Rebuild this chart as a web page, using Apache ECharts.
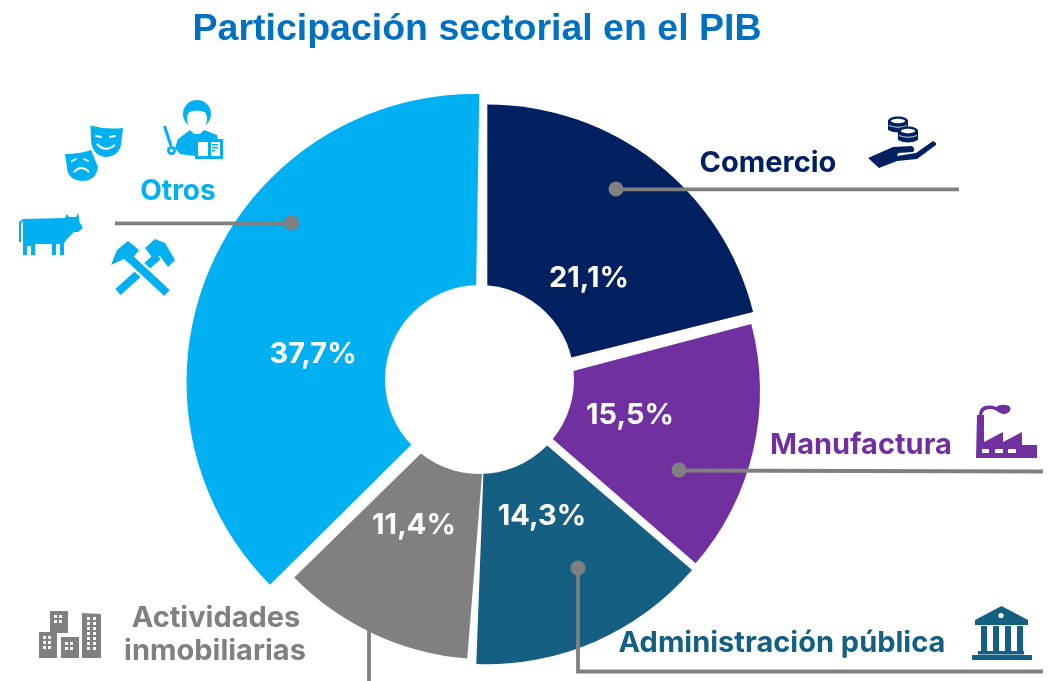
<!DOCTYPE html>
<html><head><meta charset="utf-8">
<style>html,body{margin:0;padding:0;background:#fff}#c{width:1056px;height:681px}</style>
<script src="https://cdn.jsdelivr.net/npm/echarts@6/dist/echarts.min.js"></script>
</head><body><div id="c"></div>
<script>
const categories = ['Comercio','Manufactura','Administración pública','Actividades inmobiliarias','Otros'];
const values = [21.1,15.5,14.3,11.4,37.7];
const colors = ['#002060','#7030A0','#156082','#808080','#00B0F0'];
const textColors = ['#002060','#7030A0','#156082','#808080','#00B0F0'];
const titleText = 'Participación sectorial en el PIB';
// slice geometry (exploded pie): centre x, centre y, radius, start angle
const sliceGeom = [[487.3,378.4,274,90],[497.5,391,262.5,90.76],[486.4,393.3,271,91.1],[489,386.9,272.5,88.66],[474.5,382,288,89.04]];
const labelPos = [[589,278.5],[630,415.5],[542,516.5],[414,525.5],[313,354.5]];
const GREY = '#808080', FONT = 'Inter, "Open Sans", sans-serif';

const fmt = v => v.toFixed(1).replace('.', ',') + '%';
const series = categories.map((_, i) => ({
  type:'pie', silent:true, animation:false, z:2,
  center:[sliceGeom[i][0], sliceGeom[i][1]], radius:[0, sliceGeom[i][2]], startAngle:sliceGeom[i][3],
  avoidLabelOverlap:false, labelLine:{show:false},
  label:{show:false},
  labelLayout:{x:labelPos[i][0], y:labelPos[i][1], align:'center', verticalAlign:'middle'},
  data: values.map((v, j) => ({
    name:categories[j], value:v,
    itemStyle:{color: j===i ? colors[i] : 'transparent'},
    label: j===i ? {show:true, position:'inside', formatter:p=>fmt(p.value), color:'#fff', fontFamily:FONT, fontWeight:'bold', fontSize:29} : {show:false}
  }))
}));

const g = [];
let pn = 0;
const reg = d => { const name = 'iconPath' + (pn++); echarts.graphic.registerShape(name, echarts.graphic.extendPath(d, {})); return name; };
const P = (d, fill) => g.push({type:reg(d), z:10, style:{fill:fill}});
const Q = (d, color, w) => g.push({type:reg(d), z:10, style:{fill:'none', stroke:color, lineWidth:w}});
const R = (x,y,w,h,fill) => g.push({type:'rect', z:10, shape:{x,y,width:w,height:h}, style:{fill}});
const C = (cx,cy,r,fill) => g.push({type:'circle', z:10, shape:{cx,cy,r}, style:{fill}});
const E = (cx,cy,rx,ry,fill) => g.push({type:'ellipse', z:10, shape:{cx,cy,rx,ry}, style:{fill}});
const L = (pts,color,w,cap) => g.push({type:'polyline', z:10, shape:{points:pts}, style:{stroke:color, lineWidth:w, fill:null, lineCap:cap||'butt'}});
const T = (s,x,y,color,size,align) => g.push({type:'text', z:11, style:{text:s, x, y, fill:color, font:'bold '+size+'px '+FONT, align:align||'center', verticalAlign:'middle'}});

// hole
C(479.5,379.5,94.5,'#fff');
// leaders
const LW = 3.8;
L([[115,223.3],[291,223.3]],GREY,LW); C(291.5,223,7.5,GREY);
L([[616,189.3],[959,189.3]],GREY,LW); C(616,189,7.5,GREY);
L([[679,470.5],[1043,471.5]],GREY,LW); C(679,470,7.5,GREY);
L([[578,568],[578,671.5],[1043,671.5]],GREY,LW); C(578,568,7.5,GREY);
L([[369,620],[369,681]],GREY,LW);

// category labels
T(categories[4],178,191.5,textColors[4],28);
T(categories[0],768,163.5,textColors[0],29);
T(categories[1],861,445.5,textColors[1],29);
T(categories[2],782,643.5,textColors[2],29);
const w = categories[3].split(' ');
T(w[0],216,618.5,textColors[3],29);
T(w[1],215,651.5,textColors[3],29);

// icons: person
const B = colors[4];
C(197,114,14,B); E(197,119,10,11.5,'#fff');
P('M187,113 Q197,108 207,113 L207,106 L187,106 Z',B);
P('M175,148 L178,139 L190,130 L194,134 L200,134 L204,130 L217,135 L218,140 L195,140 L195,156 L180,154 Z',B);
L([[164.5,126],[171,146]],B,3); C(171.5,150.5,4.5,B); C(171.5,150.5,1.8,'#fff');
R(195,139,28,20,B); R(198,142,10,14,'#fff'); R(211,142,9,14,'#fff'); R(212,144,6,1.5,B); R(212,147,6,1.5,B); R(212,150,3,1.5,B);
// masks
P('M65,154 Q80,154 91,150 L98,167 Q96,181 82,181 Q68,180 67,168 Z',B);
P('M88,124 Q106,129 125,126.5 L123,146 Q119,159 105,159 Q91,157 89,142 Z','#fff');
P('M90.5,125.5 Q106,130 123,128 L121,145 Q118,157 105,157 Q92,155 91,140 Z',B);
L([[96,136],[101,137]],'#fff',1.8,'round'); L([[110,137],[115,136]],'#fff',1.8,'round');
Q('M97,144 Q105,153 115,145','#fff',2);
L([[72,161],[76,159]],'#fff',1.8,'round'); L([[84,159],[88,161]],'#fff',1.8,'round');
Q('M74,172 Q81,164 89,172','#fff',2);
// cow
P('M23,219 L65,218 L67,214 L69,217 L76,217 L78,213 L79,217 L79,221 L83,228 L78,232 L74,232 L68,238 L64,243 L64,255 L60,255 L60,244 L56,244 L56,255 L52,255 L52,244 L35,244 L35,255 L31,255 L31,246 L27,246 L27,255 L23,255 Z',B);
P('M19,222 L23,219 L23,221 L21,224 L21,242 L19,242 Z',B);
// hammers
L([[118,292],[158,256]],B,8);
P('M145,248 L155,239 L165,243 L175,260 L168,267 L160,256 L152,257 Z',B);
L([[124,253],[167,293]],'#fff',13);
L([[124,253],[167,293]],B,8);
P('M111,265 L117,250 L128,241 L139,250 L129,263 L124,259 Z',B);
// coins + hand
const N = colors[0];
[[898,122],[908,132]].forEach(c=>{
  P(`M${c[0]-10},${c[1]-1} L${c[0]+10},${c[1]-1} L${c[0]+10},${c[1]+8} Q${c[0]},${c[1]+13} ${c[0]-10},${c[1]+8} Z`,N);
  E(c[0],c[1]-1,10,4.5,N); E(c[0],c[1]-1,7,2.2,'#fff');
  Q(`M${c[0]-9},${c[1]+3.5} Q${c[0]},${c[1]+7} ${c[0]+9},${c[1]+3.5}`,'#fff',0.8);
});
P('M868,158 L893,147 L912,146 Q916,149 913,152 L898,153 L897,156 L916,153 L933,141 L936,143 L936,145 L917,159 L897,161 L879,168 Z',N);
// factory
const F = colors[1];
P('M976,458 L977,415 L984,415 L984,442 L1003,432 L1003,442 L1022,432 L1022,445 L1037,445 L1037,458 Z',F);
P('M979,415 Q979,406 988,405.5 Q994,405 996,407 Q1000,404 1006,405 Q1012,406 1010,411 Q1006,416 1000,413 Q996,410 992,409 Q983,408 982,415 Z',F);
R(982,449,7,4,'#fff'); R(995,449,8,4,'#fff'); R(1008,449,8,4,'#fff');
// bank
const A = colors[2];
P('M975,620 L1001.5,606 L1028,620 L1028,625 L975,625 Z',A); C(1001,615.5,2.6,'#fff');
[981,993,1005,1017].forEach(x=>R(x,626,6,25,A));
R(978,651,46,3.5,A); R(972,655,60,5,A);
// buildings
const H = colors[3];
R(50,611,18,22,H); R(39,632,18,26,H); R(61,637,18,21,H); P('M82,613 L101,614 L101,658 L82,658 Z',H);
[[54,615],[59,615],[54,620],[59,620],[43,636],[48,636],[43,641],[48,641],[43,646],[48,646],[65,642],[70,642],[65,647],[70,647]].forEach(p=>R(p[0],p[1],3,3,'#fff'));
[617,622,627,632,637,642,647].forEach(y=>{R(87,y,3,3,'#fff');R(93,y,3,3,'#fff');});

const chart = echarts.init(document.getElementById('c'));
chart.setOption({
  animation:false,
  backgroundColor:'#fff',
  title:{text:titleText,left:472,top:24.5,textAlign:'center',textVerticalAlign:'middle',textStyle:{color:'#0070C0',fontFamily:'"Liberation Sans",Arial,sans-serif',fontWeight:'bold',fontSize:37.5}},
  series, graphic:{elements:g}
});
</script></body></html>
